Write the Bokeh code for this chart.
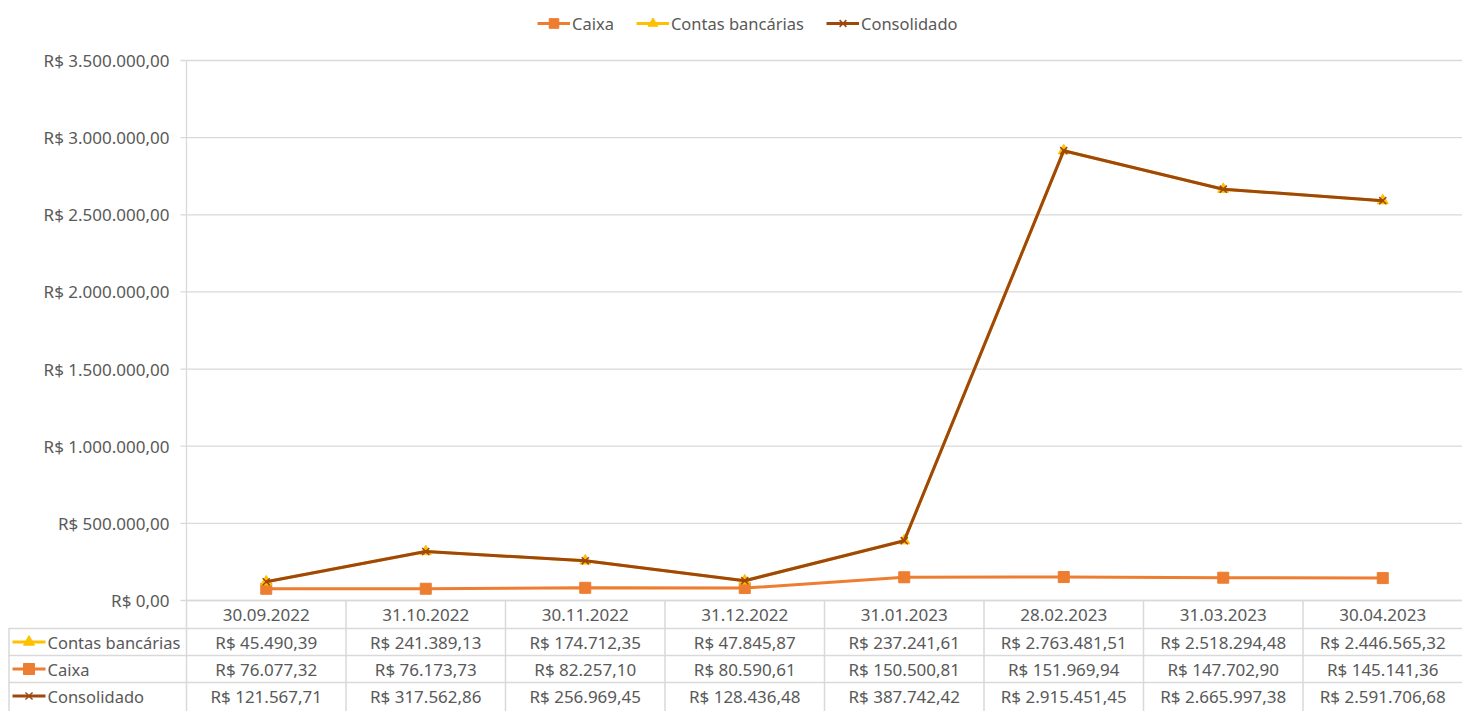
from bokeh.plotting import figure
from bokeh.models import Range1d, Legend, LegendItem
from bokeh.embed import file_html
from bokeh.resources import INLINE
from bokeh.core.properties import value

# ---------------- data ----------------
dates = ["30.09.2022", "31.10.2022", "30.11.2022", "31.12.2022",
         "31.01.2023", "28.02.2023", "31.03.2023", "30.04.2023"]
contas = [45490.39, 241389.13, 174712.35, 47845.87,
          237241.61, 2763481.51, 2518294.48, 2446565.32]
caixa = [76077.32, 76173.73, 82257.10, 80590.61,
         150500.81, 151969.94, 147702.90, 145141.36]
consolidado = [121567.71, 317562.86, 256969.45, 128436.48,
               387742.42, 2915451.45, 2665997.38, 2591706.68]
y_ticks = [0, 500000, 1000000, 1500000, 2000000, 2500000, 3000000, 3500000]


def brl(v):
    s = f"{v:,.2f}".replace(",", "X").replace(".", ",").replace("X", ".")
    return "R$ " + s


# ---------------- layout constants (figure pixels) ----------------
W, H = 1462, 711
AXIS_X = 186                      # x of the value axis
CHART_TOP, CHART_BOT = 60, 600    # y of 3.5M and 0
HEAD, ROW = 28, 27
band = (W - AXIS_X) / 8.0
x0 = -AXIS_X / band
upp = y_ticks[-1] / (CHART_BOT - CHART_TOP)

FONT = "Noto Sans"
TXT = "#595959"
GRID = "#d9d9d9"
C_CAIXA = "#ED7D31"
C_CONTAS = "#FFC000"
C_CONS = "#9E480E"


def px(fx):
    return x0 + fx / band


xs = [i + 0.5 for i in range(len(dates))]
contas_stacked = [a + b for a, b in zip(caixa, contas)]

p = figure(width=W, height=H,
           x_range=Range1d(x0, 8),
           y_range=Range1d(-(H - CHART_BOT) * upp, y_ticks[-1] + CHART_TOP * upp),
           output_backend="svg", toolbar_location=None,
           min_border=0, min_border_left=0, min_border_right=0, min_border_top=0, min_border_bottom=0)
p.extra_y_ranges = {"pg": Range1d(H, 0)}   # pixel coordinates (from top) for the data table
p.axis.visible = False
p.grid.visible = False
p.outline_line_color = None

# ---- value axis, grid ----
p.segment(x0=[0] * len(y_ticks), y0=y_ticks, x1=[8] * len(y_ticks), y1=y_ticks,
          line_color=GRID, line_width=1.3)
p.segment(x0=[0], y0=[0], x1=[0], y1=[y_ticks[-1]], line_color=GRID, line_width=1.3)
p.segment(x0=[px(AXIS_X - 6)] * len(y_ticks), y0=y_ticks, x1=[0] * len(y_ticks), y1=y_ticks,
          line_color=GRID, line_width=1.3)
p.text([px(AXIS_X - 17)] * len(y_ticks), y_ticks, text=[brl(t) for t in y_ticks],
       text_align="right", text_baseline="middle", text_font=value(FONT),
       text_font_size="17px", text_color=TXT)

# ---- series ----
r1l = p.line(xs, caixa, color=C_CAIXA, line_width=3)
r1m = p.scatter(xs, caixa, marker="square", size=11, color=C_CAIXA)
r2l = p.line(xs, contas_stacked, color=C_CONTAS, line_width=3)
r2m = p.scatter(xs, contas_stacked, marker="triangle", size=11, color=C_CONTAS)
r3l = p.line(xs, consolidado, color=C_CONS, line_width=3)
r3m = p.scatter(xs, consolidado, marker="x", size=10, line_color=C_CONS, line_width=1.5)

legend = Legend(items=[LegendItem(label="Caixa", renderers=[r1l, r1m]),
                       LegendItem(label="Contas bancárias", renderers=[r2l, r2m]),
                       LegendItem(label="Consolidado", renderers=[r3l, r3m])],
                orientation="horizontal", location=(537, H - 35),
                label_text_font=FONT, label_text_font_size="16.5px", label_text_color=TXT,
                glyph_width=33, glyph_height=24, spacing=22, label_standoff=2,
                padding=0, margin=0, border_line_color=None, background_fill_alpha=0)
p.add_layout(legend, "center")

# ---- data table ----
row_tops = [CHART_BOT + HEAD + ROW * i for i in range(3)]
p.segment(x0=[0], y0=[CHART_BOT], x1=[8], y1=[CHART_BOT], line_color=GRID, line_width=1.5,
          y_range_name="pg")
p.segment(x0=[px(8)] * 3, y0=row_tops, x1=[8] * 3, y1=row_tops, line_color=GRID,
          line_width=1.5, y_range_name="pg")
vx = list(range(0, 8))
p.segment(x0=vx, y0=[CHART_BOT] * len(vx), x1=vx, y1=[H] * len(vx), line_color=GRID,
          line_width=1.5, y_range_name="pg")
p.segment(x0=[px(8.5)], y0=[row_tops[0]], x1=[px(8.5)], y1=[H],
          line_color=GRID, line_width=1.5, y_range_name="pg")

common = dict(text_font=value(FONT), text_color=TXT,
              text_baseline="middle", y_range_name="pg")
p.text(xs, [CHART_BOT + HEAD / 2] * len(xs), text=dates, text_align="center",
       text_font_size="17px", **common)

row_names = ["Contas bancárias", "Caixa", "Consolidado"]
row_vals = [contas, caixa, consolidado]
row_cols = [C_CONTAS, C_CAIXA, C_CONS]
row_mk = ["triangle", "square", "x"]
for i, (name, vals, col, mk) in enumerate(zip(row_names, row_vals, row_cols, row_mk)):
    yc = row_tops[i] + ROW / 2
    p.text(xs, [yc] * len(xs), text=[brl(v) for v in vals], text_align="center",
           text_font_size="17px", **common)
    p.text([px(47)], [yc], text=[name], text_align="left", text_font_size="16.5px", **common)
    p.segment(x0=[px(12)], y0=[yc], x1=[px(45)], y1=[yc], line_color=col, line_width=3,
              y_range_name="pg")
    if mk == "x":
        p.scatter([px(28.5)], [yc], marker=mk, size=10, line_color=col, line_width=1.5,
                  y_range_name="pg")
    else:
        p.scatter([px(28.5)], [yc], marker=mk, size=11, color=col, y_range_name="pg")

open("out.html", "w").write(file_html(p, INLINE))
